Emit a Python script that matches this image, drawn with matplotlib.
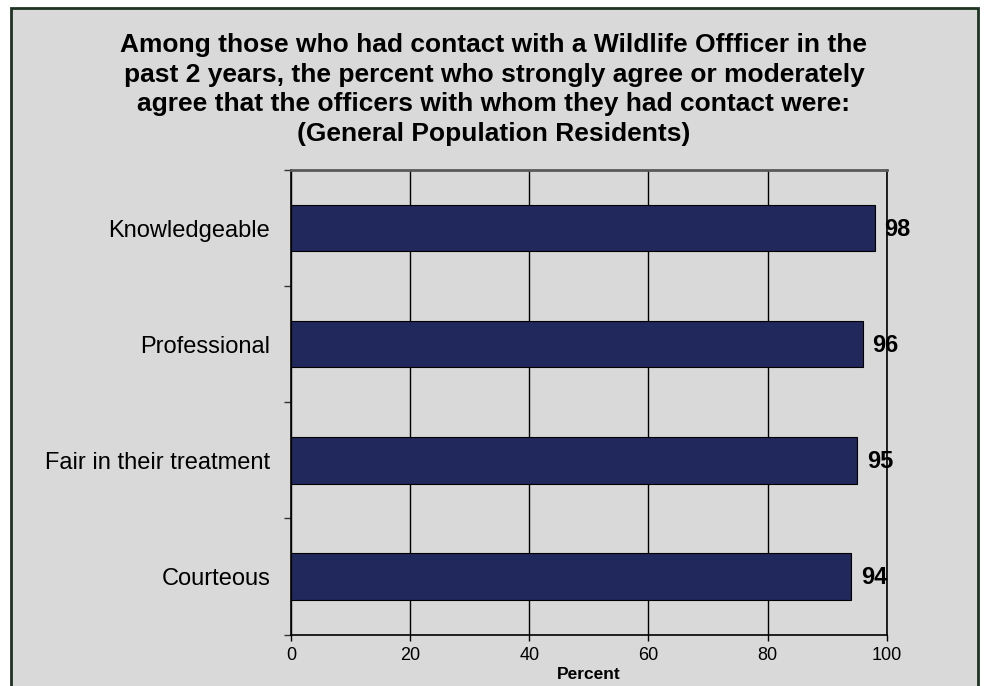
import matplotlib.pyplot as plt
from matplotlib.patches import Rectangle
from matplotlib.ticker import FixedLocator

plt.rcParams['font.family'] = ['Liberation Sans', 'DejaVu Sans']

categories = ['Knowledgeable', 'Professional', 'Fair in their treatment', 'Courteous']
percent = [98, 96, 95, 94]
xticks = [0, 20, 40, 60, 80, 100]

title = ('Among those who had contact with a Wildlife Offficer in the\n'
         'past 2 years, the percent who strongly agree or moderately\n'
         'agree that the officers with whom they had contact were:\n'
         '(General Population Residents)')

bg = '#d9d9d9'
bar_color = '#20285c'

fig = plt.figure(figsize=(9.87, 6.86), dpi=100, facecolor='white')
# gray panel with dark frame, kept behind the axes
fig.patches.append(Rectangle((11 / 987, -0.05), 967 / 987, 1.05 - 8 / 686,
                             transform=fig.transFigure, facecolor=bg,
                             edgecolor='#1e3322', linewidth=2, zorder=-1))

ax = fig.add_axes([291 / 987, 1 - 634.5 / 686, 595.7 / 987, 464.5 / 686])
ax.set_facecolor(bg)

ypos = list(range(len(categories)))[::-1]
ax.barh(ypos, percent, height=0.4, color=bar_color, edgecolor='black',
        linewidth=0.8, zorder=3)
for y, v in zip(ypos, percent):
    ax.annotate(str(v), (v, y), xytext=(7, -1), textcoords='offset points',
                ha='left', va='center', fontsize=17, fontweight='bold', zorder=4)

ax.set_xlim(0, 100)
ax.set_ylim(-0.5, len(categories) - 0.5)
ax.set_xticks(xticks)
ax.xaxis.grid(True, color='black', linewidth=1, zorder=1)
ax.set_yticks(ypos)
ax.set_yticklabels(categories, fontsize=17)
ax.yaxis.set_minor_locator(FixedLocator([-0.5, 0.5, 1.5, 2.5, 3.5]))
ax.tick_params(axis='y', which='major', length=0, pad=15)
ax.tick_params(axis='y', which='minor', length=5, width=1, color='#333333')
ax.tick_params(axis='x', length=4, width=1, labelsize=13, pad=5)

for side in ['left', 'bottom', 'right']:
    ax.spines[side].set_color('black')
    ax.spines[side].set_linewidth(1.2)
ax.spines['top'].set_color('#5a5a5a')
ax.spines['top'].set_linewidth(2)

ax.set_xlabel('Percent', fontsize=12.5, fontweight='bold', labelpad=2)

fig.text(494 / 987, 1 - 33 / 686, title, ha='center', va='top',
         fontsize=19, fontweight='bold', linespacing=1.30)

fig.savefig('out.png', dpi=100, facecolor=fig.get_facecolor())
